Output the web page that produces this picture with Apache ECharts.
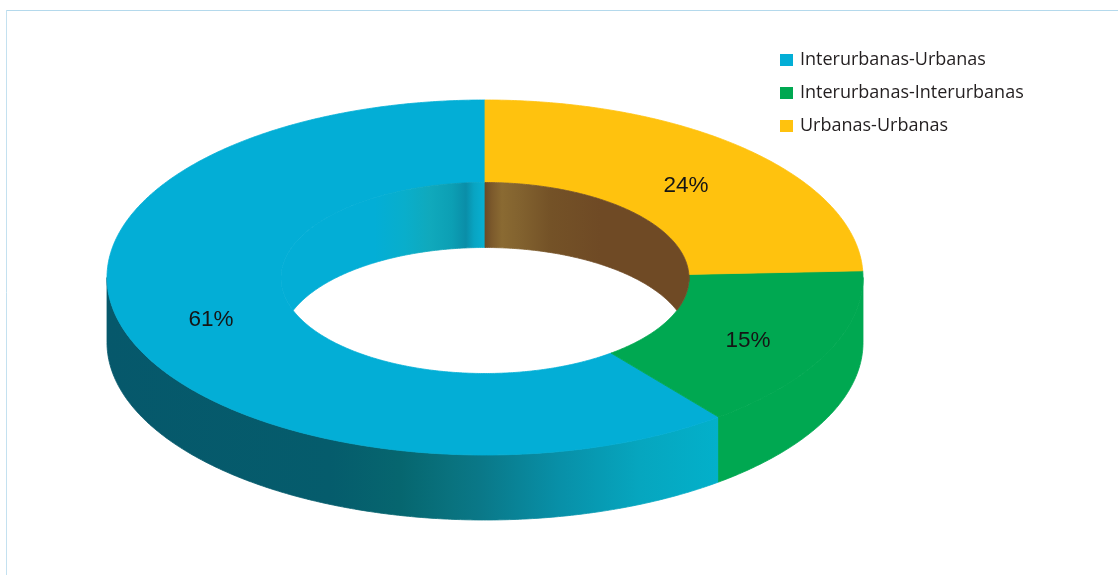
<!DOCTYPE html>
<html>
<head>
<meta charset="utf-8">
<style>html,body{margin:0;padding:0;background:#fff}#c{width:1118px;height:575px}</style>
<script src="https://cdn.jsdelivr.net/npm/echarts@6/dist/echarts.min.js"></script>
</head>
<body>
<div id="c"></div>
<script>
var categories = ['Interurbanas-Urbanas', 'Interurbanas-Interurbanas', 'Urbanas-Urbanas'];
var values = [60.6, 15.0, 24.4];
var colors = ['#03aed6', '#00a851', '#ffc20e'];
// Slices run clockwise from 12 o'clock in this order
var sliceOrder = [2, 1, 0];
var labelShiftY = [-2, 6, 6];

var outerWallStops = [
  [[107, '#06586b'], [330, '#055c6c'], [400, '#06666f'], [450, '#09727e'], [480, '#0a7888'], [560, '#0890a8'], [640, '#06a6bf'], [718, '#03b0ca']],
  [[718, '#00a851'], [863, '#00a851']],
  [[700, '#ffc20e'], [863, '#ffc20e']]
];
var innerWallStops = [
  [[293, '#03aed6'], [375, '#03aed6'], [405, '#09aecb'], [430, '#10a9bc'], [452, '#0c9fb4'], [466, '#0a8ea8'], [474, '#08a4c2'], [485, '#08b0d2']],
  [[685, '#6f4a25'], [690, '#6f4a25']],
  [[485, '#6a4a25'], [492, '#7c5a2c'], [502, '#8a6a32'], [520, '#82622f'], [550, '#745227'], [600, '#6f4a25'], [689, '#6f4a25']]
];

var CX = 485, OUT_CY = 277.5, OUT_RX = 378, OUT_RY = 177.5;
var IN_CY = 278, IN_RX = 204, IN_RY = 95.5, DEPTH = 65, LABEL_R = 0.767;

var total = values.reduce(function (a, b) { return a + b; }, 0);
function startAngle(idx) {
  var sum = 0;
  for (var i = 0; i < sliceOrder.length; i++) {
    if (sliceOrder[i] === idx) break;
    sum += values[sliceOrder[i]];
  }
  return sum / total * 360;
}
function pt(deg, rx, ry, cy, dy) {
  var r = deg * Math.PI / 180;
  return [CX + rx * Math.sin(r), cy - ry * Math.cos(r) + (dy || 0)];
}
function sweep(a, b) {
  var out = [], n = Math.max(1, Math.ceil((b - a) / 0.5));
  for (var i = 0; i <= n; i++) out.push(a + (b - a) * i / n);
  return out;
}
function gradient(stops) {
  var x0 = stops[0][0], x1 = stops[stops.length - 1][0];
  return new echarts.graphic.LinearGradient(x0, 0, x1, 0, stops.map(function (s) {
    return { offset: (s[0] - x0) / (x1 - x0), color: s[1] };
  }), true);
}
function makeRender(idx) {
  return function (params, api) {
    var val = api.value(0);
    var a = startAngle(idx), b = a + val / total * 360;
    var children = [];
    // outer wall: the front half only
    var wa = Math.max(a, 90), wb = Math.min(b, 270);
    if (wb > wa) {
      var top = sweep(wa, wb).map(function (d) { return pt(d, OUT_RX, OUT_RY, OUT_CY); });
      var bot = sweep(wa, wb).reverse().map(function (d) { return pt(d, OUT_RX, OUT_RY, OUT_CY, DEPTH); });
      var og = gradient(outerWallStops[idx]);
      children.push({ type: 'polygon', shape: { points: top.concat(bot) }, style: { fill: og, stroke: og, lineWidth: 0.8 } });
    }
    // top face
    var o = sweep(a, b).map(function (d) { return pt(d, OUT_RX, OUT_RY, OUT_CY); });
    var n = sweep(a, b).reverse().map(function (d) { return pt(d, IN_RX, IN_RY, IN_CY); });
    children.push({ type: 'polygon', shape: { points: o.concat(n) }, style: { fill: colors[idx], stroke: colors[idx], lineWidth: 0.8 } });
    // inner wall: the back half only, cut by the hole's front edge
    [[Math.max(a, 270), Math.min(b, 360)], [Math.max(a, 0), Math.min(b, 90)]].forEach(function (r) {
      if (r[1] <= r[0]) return;
      var up = sweep(r[0], r[1]).map(function (d) { return pt(d, IN_RX, IN_RY, IN_CY); });
      var lo = sweep(r[0], r[1]).reverse().map(function (d) {
        var p = pt(d, IN_RX, IN_RY, IN_CY, DEPTH);
        var t = (p[0] - CX) / IN_RX;
        var limit = IN_CY + IN_RY * Math.sqrt(Math.max(0, 1 - t * t));
        return [p[0], Math.min(p[1], limit)];
      });
      var ig = gradient(innerWallStops[idx]);
      children.push({ type: 'polygon', shape: { points: up.concat(lo) }, style: { fill: ig, stroke: ig, lineWidth: 0.8 } });
    });
    // value label
    var mid = (a + b) / 2, lp = pt(mid, OUT_RX * LABEL_R, OUT_RY * LABEL_R, OUT_CY, labelShiftY[idx]);
    children.push({
      type: 'text', z2: 10,
      style: { x: lp[0], y: lp[1], text: Math.round(val / total * 100) + '%', fill: '#151515',
        font: '22.5px "Liberation Sans", Arial, sans-serif', align: 'center', verticalAlign: 'middle' }
    });
    return { type: 'group', children: children };
  };
}

var chart = echarts.init(document.getElementById('c'), null, { renderer: 'canvas' });
chart.setOption({
  animation: false,
  backgroundColor: '#ffffff',
  legend: {
    orient: 'vertical', left: 775, top: 44, itemWidth: 13, itemHeight: 12, itemGap: 11, itemStyle: { borderWidth: 0 },
    icon: 'rect', selectedMode: false, data: categories,
    textStyle: { fontFamily: 'Open Sans', fontSize: 18, color: '#231f20', padding: [3, 0, 0, 2], height: 19, lineHeight: 19 }
  },
  graphic: [
    { type: 'line', silent: true, shape: { x1: 6, y1: 10.5, x2: 1118, y2: 10.5 }, style: { stroke: '#b4d9ec', lineWidth: 1 } },
    { type: 'line', silent: true, shape: { x1: 6.5, y1: 10, x2: 6.5, y2: 575 }, style: { stroke: '#c4e1f0', lineWidth: 1 } }
  ],
  series: categories.map(function (name, i) {
    return {
      type: 'custom', name: name, coordinateSystem: 'none', silent: true,
      itemStyle: { color: colors[i] },
      data: [[values[i]]],
      encode: { value: 0 },
      renderItem: makeRender(i)
    };
  })
});
</script>
</body>
</html>
